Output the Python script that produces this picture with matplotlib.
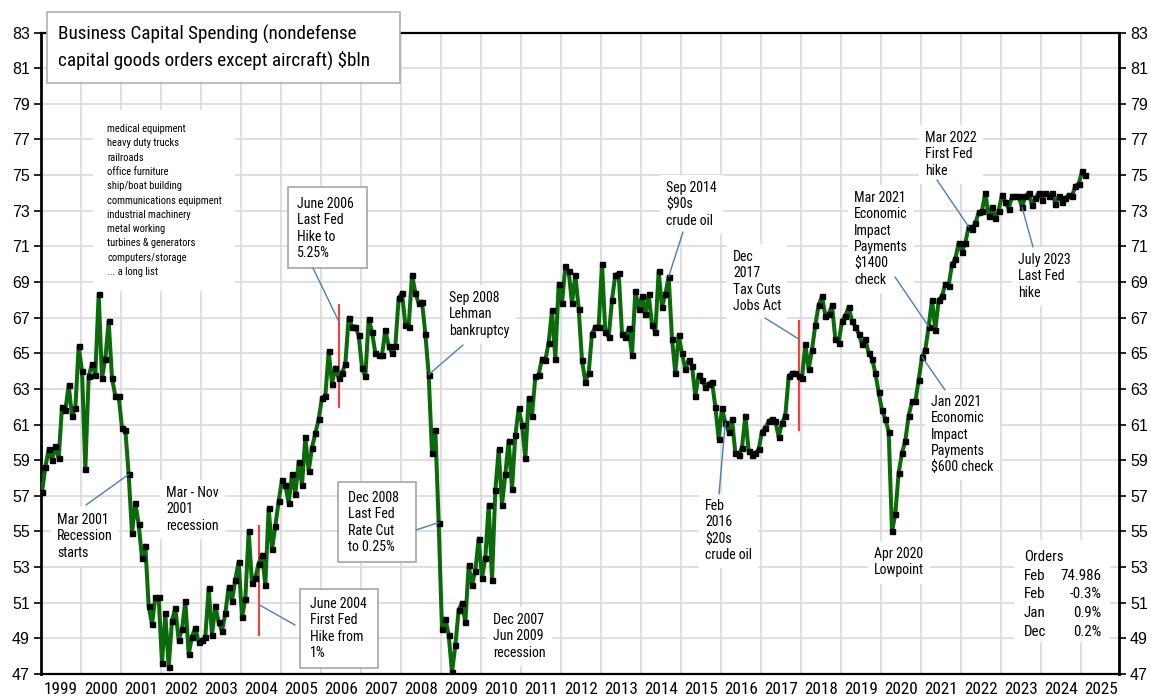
import os
import numpy as np
import matplotlib.pyplot as plt
import matplotlib.font_manager as fm
from matplotlib.font_manager import FontProperties
from matplotlib.patches import Rectangle

plt.rcParams['font.family'] = ['Liberation Sans', 'DejaVu Sans']

# monthly orders, $bln, Jan 1999 .. Feb 2025
start_year = 1999
orders = [
    57.2, 58.6, 59.6, 59.0, 59.8, 59.1, 62.0, 61.8, 63.2, 61.5, 61.9, 65.4,
    64.0, 58.5, 63.7, 64.4, 63.8, 68.3, 63.6, 64.7, 66.8, 63.6, 62.6, 62.6,
    60.8, 60.7, 58.2, 54.9, 56.6, 55.4, 53.5, 54.2, 50.8, 49.8, 51.3, 51.3,
    47.6, 50.4, 47.4, 50.0, 50.7, 48.9, 49.5, 51.1, 48.1, 49.1, 49.6, 48.8,
    48.9, 49.1, 51.8, 49.2, 50.8, 49.9, 49.4, 50.4, 51.9, 51.1, 52.3, 53.3,
    50.2, 51.2, 55.0, 52.1, 52.4, 53.2, 53.7, 52.0, 56.3, 54.0, 55.3, 56.7,
    57.9, 57.6, 56.6, 58.2, 57.1, 58.9, 57.6, 60.3, 58.4, 59.7, 60.5, 61.3,
    62.5, 62.6, 65.1, 63.3, 64.2, 63.6, 63.9, 64.4, 67.0, 66.5, 66.5, 66.0,
    64.2, 63.7, 66.9, 66.2, 65.0, 64.9, 64.9, 66.3, 65.4, 65.0, 65.4, 68.1,
    68.4, 66.6, 66.5, 69.4, 68.4, 67.8, 67.9, 66.1, 63.8, 59.4, 60.7, 55.5,
    49.5, 50.1, 49.2, 47.1, 48.6, 50.6, 51.0, 49.9, 53.1, 52.0, 52.8, 54.6,
    52.4, 53.5, 56.5, 52.3, 57.3, 59.6, 56.5, 58.2, 60.1, 57.4, 60.4, 61.9,
    61.0, 59.1, 62.5, 61.5, 63.7, 63.8, 64.7, 64.6, 65.6, 67.4, 64.7, 68.9,
    67.8, 69.9, 69.6, 67.8, 69.4, 67.5, 64.6, 63.4, 63.9, 66.1, 66.5, 66.5,
    70.0, 66.2, 65.9, 68.0, 69.4, 69.5, 66.1, 65.9, 66.4, 64.9, 68.5, 67.5,
    68.2, 67.2, 68.3, 66.6, 66.2, 69.6, 67.6, 68.3, 69.3, 65.8, 63.9, 66.0,
    65.0, 64.1, 64.6, 64.3, 62.6, 63.8, 63.5, 63.1, 63.3, 63.4, 62.0, 60.2,
    61.9, 61.1, 60.6, 61.3, 59.4, 59.3, 59.7, 61.5, 59.5, 59.3, 59.4, 59.6,
    60.6, 60.8, 61.2, 61.3, 61.2, 60.3, 61.1, 61.5, 63.7, 63.9, 63.9, 63.7,
    63.6, 65.5, 64.1, 65.2, 66.6, 67.7, 68.2, 67.1, 67.2, 67.7, 65.8, 65.6,
    66.8, 67.1, 67.6, 66.8, 66.5, 66.1, 65.5, 65.8, 65.0, 64.7, 63.9, 62.8,
    61.8, 61.3, 60.6, 55.0, 56.0, 58.3, 59.4, 60.1, 61.5, 62.3, 62.3, 63.5,
    64.8, 65.2, 66.5, 68.0, 66.3, 68.0, 68.2, 68.9, 68.8, 70.0, 70.3, 71.2,
    70.7, 71.2, 72.1, 72.0, 72.3, 72.9, 73.0, 74.0, 72.7, 73.2, 72.6, 73.0,
    73.9, 73.5, 73.1, 73.8, 73.8, 73.8, 73.2, 73.8, 74.0, 73.3, 73.7, 74.0,
    73.6, 74.0, 73.8, 74.0, 73.4, 73.8, 73.5, 73.7, 73.9, 73.8, 74.4, 74.5,
    75.2, 74.986,
]
years = list(range(1999, 2026))
y_ticks = list(range(47, 84, 2))
latest_months = ['Feb', 'Feb', 'Jan', 'Dec']
latest_values = ['74.986', '-0.3%', '0.9%', '0.2%']
product_list = ['medical equipment', 'heavy duty trucks', 'railroads', 'office furniture',
                'ship/boat building', 'communications equipment', 'industrial machinery',
                'metal working', 'turbines & generators', 'computers/storage', '... a long list']

W, H = 1151, 698
fig = plt.figure(figsize=(W / 100, H / 100), dpi=100)
ax = fig.add_axes([41 / W, 1 - 674 / H, (1119 - 41) / W, (674 - 32.5) / H])
renderer = fig.canvas.get_renderer()

# the chart uses a narrow Arial-like face; take a condensed one if there is one
narrow_keys = ['liberationsansnarrow-regular', 'arialnarrow', 'arial narrow',
               'robotocondensed-regular', 'roboto_condensed-regular', 'notosans-condensed.',
               'opensans-condensedregular', 'opensans_condensed-regular',
               'notosans-semicondensed.', 'opensans_semicondensed-regular']
font_files = [f.fname for f in fm.fontManager.ttflist]
narrow_path = None
for key in narrow_keys:
    hits = [p for p in font_files if key in os.path.basename(p).lower()]
    if hits:
        narrow_path = hits[0]
        break

base_font = FontProperties(family=['Liberation Sans', 'DejaVu Sans'])
text_font = FontProperties(fname=narrow_path) if narrow_path else base_font


def text_w(fp, s, size):
    p = fp.copy()
    p.set_size(size)
    return renderer.get_text_width_height_descent(s, p, ismath=False)[0]


sample = 'Business Capital Spending 2001 recession'
squeeze = text_w(text_font, sample, 10) / text_w(base_font, sample, 10)


def font(h_size, w_size, fp=None):
    # h_size: size matching glyph height, w_size: size matching width in Liberation Sans
    fp = text_font if fp is None else fp
    k = squeeze if fp is text_font else 1.0
    p = fp.copy()
    p.set_size(min(h_size, (h_size * w_size / k) ** 0.5))
    return p


def spacing(fp, pitch):
    # matplotlib steps baselines by linespacing * (h - d) + d
    _, h, d = renderer.get_text_width_height_descent('lp', fp, ismath=False)
    return (pitch - d) / (h - d)


def px(x, y):
    # image pixel -> figure fraction
    return (x / W, 1 - y / H)


def mdate(year, month):
    return year + (month - 1 + 0.3) / 12


def val(year, month):
    return orders[(year - start_year) * 12 + month - 1]


t = start_year + (np.arange(len(orders)) + 0.3) / 12
ax.plot(t, orders, color='#0b6b0b', lw=2.9, marker='s', ms=3.6,
        mfc='black', mec='black', zorder=5)

ax.set_xlim(1999.0, 2025.95)
ax.set_ylim(47, 83)
ax.set_yticks(y_ticks)
ax.set_xticks(years[1:])
ax.set_xticklabels([])
ax.set_xticks([y + 0.5 for y in years], minor=True)
ax.set_xticklabels([str(y) for y in years], minor=True)
year_font = font(12.7, 10.5)
for lbl in ax.get_xticklabels(minor=True):
    lbl.set_fontproperties(year_font)
ax.tick_params(axis='x', which='both', length=0, pad=6)
ax.tick_params(axis='y', labelsize=11.5, direction='out', length=5, width=1.2,
               right=True, labelright=True, pad=3)
ax.grid(True, which='major', color='#d9d9d9', lw=1.2, zorder=0)
ax.set_axisbelow(True)
for s in ['left', 'right']:
    ax.spines[s].set_linewidth(2)
ax.spines['top'].set_linewidth(1.6)
ax.spines['bottom'].set_linestyle((0, (1, 1)))
ax.spines['bottom'].set_linewidth(1.6)

# title box
title_font = font(13.8, 12.6)
ax.add_patch(Rectangle(px(47, 83), 353 / W, 71 / H, transform=fig.transFigure,
                       fc='white', ec='#b0b0b0', lw=1.2, zorder=6, clip_on=False))
ax.text(*px(58, 25), 'Business Capital Spending (nondefense\ncapital goods orders except aircraft) $bln',
        transform=fig.transFigure, ha='left', va='top', fontproperties=title_font,
        linespacing=spacing(title_font, 24.5), zorder=7)

list_font = font(7.6, 7.2)
ax.text(*px(107, 124), '\n'.join(product_list), transform=fig.transFigure, ha='left', va='top',
        fontproperties=list_font, linespacing=spacing(list_font, 14.3), zorder=4,
        bbox=dict(boxstyle='square,pad=1.3', fc='white', ec='none'))

note_font = font(10.7, 8.1)
note_ls = spacing(note_font, 16.3)
blue = '#4a7ebb'


def link(x, y, year, month, yv=None):
    yv = val(year, month) if yv is None else yv
    ax.annotate('', xy=(mdate(year, month), yv), xytext=px(x, y), textcoords='figure fraction',
                arrowprops=dict(arrowstyle='-', color=blue, lw=1, shrinkA=0, shrinkB=0), zorder=6)


def note(x, y, s):
    ax.text(*px(x, y), s, transform=fig.transFigure, ha='left', va='top', fontproperties=note_font,
            linespacing=note_ls, zorder=4,
            bbox=dict(boxstyle='square,pad=0.45', fc='white', ec='none'))


def boxed(x0, y0, x1, y1, tx, ty, s):
    ax.add_patch(Rectangle(px(x0, y1), (x1 - x0) / W, (y1 - y0) / H, transform=fig.transFigure,
                           fc='white', ec='#a6a6a6', lw=1.2, zorder=4, clip_on=False))
    ax.text(*px(tx, ty), s, transform=fig.transFigure, ha='left', va='top', fontproperties=note_font,
            linespacing=note_ls, zorder=4.5)


# red event lines
red = '#ff3b3b'
ax.plot([mdate(2004, 6)] * 2, [49.2, 55.3], color=red, lw=1.5, zorder=4)
ax.plot([mdate(2006, 6)] * 2, [62.0, 67.7], color=red, lw=1.5, zorder=4)
ax.plot([mdate(2017, 12)] * 2, [60.7, 66.8], color=red, lw=1.5, zorder=4)

note(57, 513, 'Mar 2001\nRecession\nstarts')
link(86, 505, 2001, 3)
note(166, 486, 'Mar - Nov\n2001\nrecession')

boxed(300, 589, 378, 668, 310, 597, 'June 2004\nFirst Fed\nHike from\n1%')
link(295, 625, 2004, 6, 50.9)
boxed(288, 187, 367, 268, 297, 197, 'June 2006\nLast Fed\nHike to\n5.25%')
link(313, 268, 2006, 6, 66.8)
boxed(338, 482, 416, 562, 348, 491, 'Dec 2008\nLast Fed\nRate Cut\nto 0.25%')
link(416, 530, 2008, 12)

note(449, 291, 'Sep 2008\nLehman\nbankruptcy')
link(463, 345, 2008, 9)
note(493, 613, 'Dec 2007\nJun 2009\nrecession')

note(666, 181, 'Sep 2014\n$90s\ncrude oil')
link(683, 232, 2014, 9)
note(733, 250, 'Dec\n2017\nTax Cuts\nJobs Act')
link(765, 318, 2017, 12, 65.8)
note(705, 499, 'Feb\n2016\n$20s\ncrude oil')
link(719, 494, 2016, 2)
note(874, 547, 'Apr 2020\nLowpoint')

note(854, 191, 'Mar 2021\nEconomic\nImpact\nPayments\n$1400\ncheck')
link(895, 277, 2021, 3)
note(931, 395, 'Jan 2021\nEconomic\nImpact\nPayments\n$600 check')
link(945, 390, 2021, 1)
note(925, 131, 'Mar 2022\nFirst Fed\nhike')
link(937, 180, 2022, 3)
note(1018, 253, 'July 2023\nLast Fed\nhike')
link(1033, 247, 2023, 7)

# latest orders table
table_font = font(11.0, 9.2)
ax.add_patch(Rectangle(px(1014, 642), 96 / W, 102 / H, transform=fig.transFigure,
                       fc='white', ec='none', zorder=4, clip_on=False))
ax.text(*px(1024, 550), 'Orders', transform=fig.transFigure, ha='left', va='top',
        fontproperties=table_font, zorder=4.5)
for i, (m, v) in enumerate(zip(latest_months, latest_values)):
    yy = 569 + i * 18.5
    ax.text(*px(1024, yy), m, transform=fig.transFigure, ha='left', va='top',
            fontproperties=table_font, zorder=4.5)
    ax.text(*px(1101, yy), v, transform=fig.transFigure, ha='right', va='top',
            fontproperties=table_font, zorder=4.5)

fig.savefig('out.png', dpi=100)
